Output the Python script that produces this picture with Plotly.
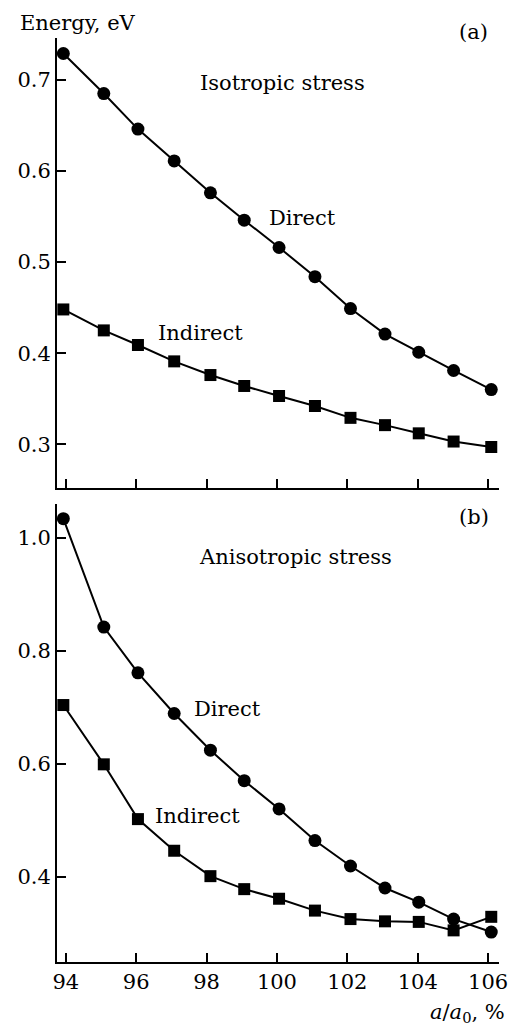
import plotly.graph_objects as go
from plotly.subplots import make_subplots

# Lattice parameter a/a0 (%) at which the gaps were computed
strain = [93.93, 95.08, 96.05, 97.08, 98.11, 99.07, 100.06,
          101.08, 102.09, 103.07, 104.03, 105.02, 106.09]

# (a) isotropic stress, gap energies in eV
iso_direct = [0.729, 0.685, 0.646, 0.611, 0.576, 0.546, 0.516,
              0.484, 0.449, 0.421, 0.401, 0.381, 0.360]
iso_indirect = [0.448, 0.425, 0.409, 0.391, 0.376, 0.364, 0.353,
                0.342, 0.329, 0.321, 0.312, 0.303, 0.297]

# (b) anisotropic stress, gap energies in eV
aniso_direct = [1.034, 0.842, 0.761, 0.689, 0.624, 0.570, 0.520,
                0.464, 0.419, 0.380, 0.355, 0.325, 0.302]
aniso_indirect = [0.704, 0.599, 0.502, 0.446, 0.401, 0.378, 0.361,
                  0.340, 0.325, 0.321, 0.320, 0.305, 0.329]

x_ticks = [94, 96, 98, 100, 102, 104, 106]

FONT = "DejaVu Serif"
FS = 21

fig = make_subplots(rows=2, cols=1, vertical_spacing=0.0)


def add_series(y, symbol, size, row):
    fig.add_trace(
        go.Scatter(
            x=strain, y=y, mode="lines+markers",
            line=dict(color="black", width=2),
            marker=dict(symbol=symbol, size=size, color="black"),
            cliponaxis=False, showlegend=False,
        ),
        row=row, col=1,
    )


add_series(iso_direct, "circle", 13, 1)
add_series(iso_indirect, "square", 12, 1)
add_series(aniso_direct, "circle", 13, 2)
add_series(aniso_indirect, "square", 12, 2)

axis_style = dict(
    showline=True, linecolor="black", linewidth=2,
    ticks="inside", ticklen=9, tickwidth=1.5, tickcolor="black",
    showgrid=False, zeroline=False, mirror=False,
    tickfont=dict(family=FONT, size=FS, color="black"),
)

fig.update_xaxes(range=[93.75, 106.31], tickvals=x_ticks, **axis_style)
fig.update_xaxes(showticklabels=False, row=1, col=1)
fig.update_yaxes(**axis_style)
fig.update_yaxes(range=[0.252, 0.746], tickvals=[0.3, 0.4, 0.5, 0.6, 0.7],
                 ticktext=["0.3", "0.4", "0.5", "0.6", "0.7"], row=1, col=1)
fig.update_yaxes(range=[0.249, 1.06], tickvals=[0.4, 0.6, 0.8, 1.0],
                 ticktext=["0.4", "0.6", "0.8", "1.0"], row=2, col=1)

fig.update_layout(
    xaxis=dict(domain=[0, 1]),
    yaxis=dict(domain=[0.513, 1.0]),
    yaxis2=dict(domain=[0.0, 0.4957]),
)


def label(text, x, y, xanchor="center"):
    fig.add_annotation(
        text=text, x=x, y=y, xref="paper", yref="paper",
        xanchor=xanchor, yanchor="middle", showarrow=False,
        font=dict(family=FONT, size=FS, color="black"),
    )


label("Energy, eV", -0.089, 1.016, xanchor="left")
label("(a)", 0.942, 1.0065)
label("Isotropic stress", 0.51, 0.951)
label("Direct", 0.556, 0.805)
label("Indirect", 0.324, 0.681)
label("(b)", 0.944, 0.4816)
label("Anisotropic stress", 0.54, 0.438)
label("Direct", 0.386, 0.274)
label("Indirect", 0.319, 0.158)
label("<i>a</i>/<i>a</i><sub>0</sub>, %", 1.018, -0.055, xanchor="right")

fig.update_layout(
    width=520, height=1028,
    margin=dict(l=57, r=13, t=38, b=66),
    paper_bgcolor="white", plot_bgcolor="white",
    font=dict(family=FONT, size=FS, color="black"),
)

fig.write_html("out.html")
